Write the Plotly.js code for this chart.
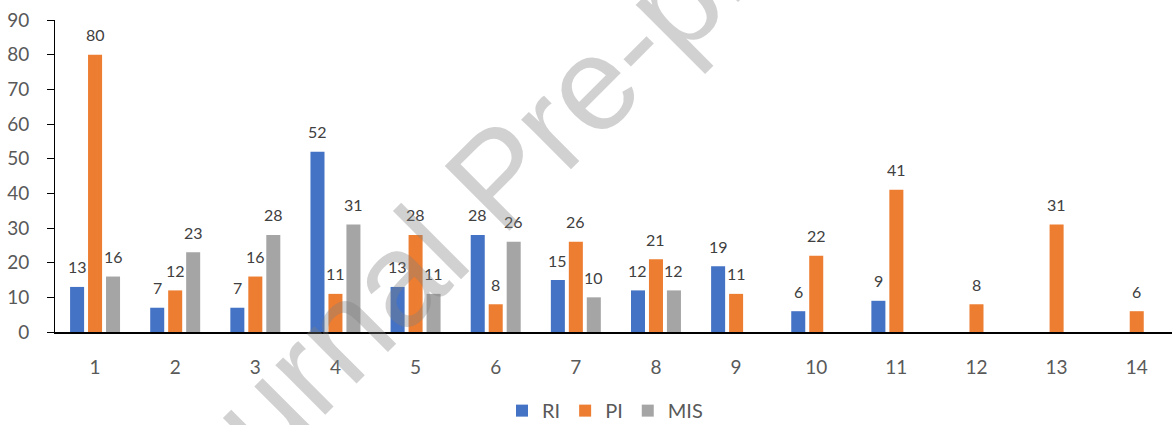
<!DOCTYPE html>
<html>
<head>
<meta charset="utf-8">
<script src="https://cdn.plot.ly/plotly-3.0.1.min.js"></script>
<style>html,body{margin:0;padding:0;background:#fff;}#chart{width:1172px;height:425px;}</style>
</head>
<body>
<div id="chart"></div>
<script>
// Data
const categories = [1,2,3,4,5,6,7,8,9,10,11,12,13,14];
const seriesNames = ["RI", "PI", "MIS"];
const RI  = [13, 7, 7, 52, 13, 28, 15, 12, 19, 6, 9, null, null, null];
const PI  = [80, 12, 16, 11, 28, 8, 26, 21, 11, 22, 41, 8, 31, 6];
const MIS = [16, 23, 28, 31, 11, 26, 10, 12, null, null, null, null, null, null];
const yTicks = [0,10,20,30,40,50,60,70,80,90];
const watermark = "Journal Pre-proof";

const colors = ["#4472C4", "#ED7D31", "#A5A5A5"];
const allSeries = [RI, PI, MIS];
const bargap = 0.327;
const slot = (1 - bargap) / allSeries.length;
const FONT = "Lato, 'Open Sans', sans-serif";

const traces = allSeries.map((vals, i) => ({
  type: "bar",
  name: seriesNames[i],
  x: categories,
  y: vals,
  marker: {color: colors[i]},
  hoverinfo: "skip"
}));

const annotations = [];
allSeries.forEach((vals, i) => {
  const off = (i - (allSeries.length - 1) / 2) * slot;
  vals.forEach((v, j) => {
    if (v === null) return;
    annotations.push({
      x: categories[j] + off, y: v, xref: "x", yref: "y",
      text: String(v), showarrow: false, yanchor: "middle", yshift: 20,
      font: {family: FONT, size: 16, color: "#404040"}
    });
  });
});

annotations.push({
  xref: "paper", yref: "paper",
  x: (498 - 55) / 1117, y: (332 - 177) / 312,
  xanchor: "center", yanchor: "middle",
  text: watermark, showarrow: false, textangle: -45,
  font: {family: "Liberation Sans, Arial, sans-serif", size: 133, color: "rgba(128,128,128,0.36)"}
});

const layout = {
  width: 1172, height: 425,
  margin: {l: 55, r: 0, t: 20, b: 93, autoexpand: false},
  paper_bgcolor: "#fff", plot_bgcolor: "#fff",
  barmode: "group", bargap: bargap, bargroupgap: 0.22,
  showlegend: true,
  legend: {orientation: "h", x: (605 - 55) / 1117, xanchor: "center", y: -0.252, yanchor: "middle",
           font: {family: FONT, size: 20, color: "#595959"}, itemwidth: 30, traceorder: "normal"},
  xaxis: {
    range: [0.5, 14.44], tickmode: "array", tickvals: categories, ticktext: categories.map(String),
    showgrid: false, zeroline: false, showline: true, linecolor: "#000", linewidth: 2,
    ticks: "", ticklabelstandoff: 17,
    tickfont: {family: FONT, size: 19, color: "#595959"}, fixedrange: true
  },
  yaxis: {
    range: [0, 90], tickmode: "array", tickvals: yTicks, ticktext: yTicks.map(String),
    showgrid: false, zeroline: false, showline: true, linecolor: "#000", linewidth: 1,
    ticks: "outside", ticklen: 7, tickcolor: "#000", tickwidth: 1, ticklabelstandoff: 14,
    tickfont: {family: FONT, size: 19, color: "#595959"}, fixedrange: true
  },
  annotations: annotations
};

Plotly.newPlot("chart", traces, layout, {displayModeBar: false, staticPlot: true});
</script>
</body>
</html>
